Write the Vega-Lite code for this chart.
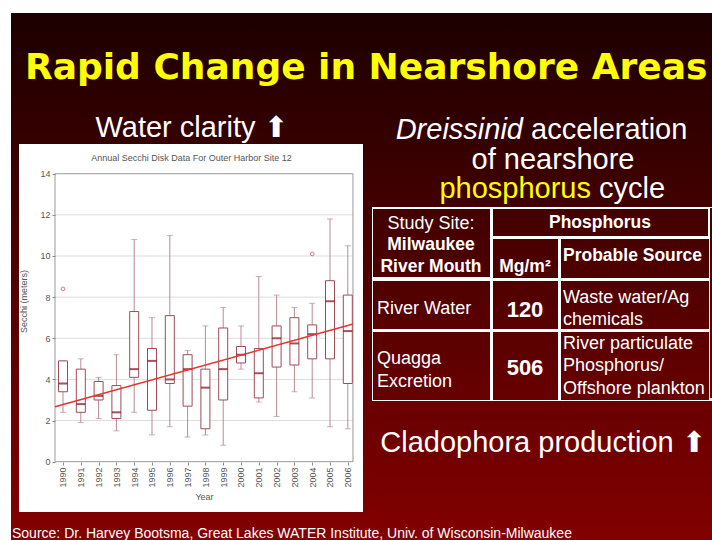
{
  "$schema": "https://vega.github.io/schema/vega-lite/v6.json",
  "background": "white",
  "padding": {"left": 11, "top": 13, "right": 0, "bottom": 0},
  "spacing": 0,
  "config": {
    "view": {"stroke": null},
    "text": {"font": "Liberation Sans", "color": "white", "baseline": "alphabetic", "fontSize": 18},
    "axis": {"labelFont": "Liberation Sans", "titleFont": "Liberation Sans"}
  },
  "vconcat": [
    {
      "width": 701,
      "height": 101,
      "view": {"fill": {"gradient": "linear", "x1": 0, "y1": 0, "x2": 0, "y2": 1, "stops": [{"offset": 0, "color": "#1c0000"}, {"offset": 1, "color": "#300000"}]}},
      "data": {"values": [{"text": "Rapid Change in Nearshore Areas"}]},
      "mark": {"type": "text", "font": "DejaVu Sans", "fontWeight": "bold", "fontSize": 36, "color": "#ffff00", "align": "left", "baseline": "middle", "dx": -336.5, "dy": 4},
      "encoding": {"text": {"field": "text"}}
    },
    {
      "spacing": 0,
      "bounds": "flush",
      "hconcat": [
        {
          "width": 361,
          "height": 426,
          "view": {"fill": {"gradient": "linear", "x1": 0, "y1": 0, "x2": 0, "y2": 1, "stops": [{"offset": 0, "color": "#300000"}, {"offset": 1, "color": "#840000"}]}},
          "title": {"text": "Water clarity ⬆", "subtitle": "Annual Secchi Disk Data For Outer Harbor Site 12", "color": "white", "font": "Liberation Sans", "fontSize": 29, "fontWeight": "normal", "subtitleColor": "#555555", "subtitleFont": "Liberation Sans", "subtitleFontSize": 9, "subtitlePadding": 11, "offset": -49, "anchor": "middle"},
          "data": {"values": [
            {"year": 1990, "lower": 2.4, "q1": 3.4, "median": 3.8, "q3": 4.9, "upper": 4.9},
            {"year": 1991, "lower": 1.9, "q1": 2.4, "median": 2.8, "q3": 4.5, "upper": 5.0},
            {"year": 1992, "lower": 2.1, "q1": 3.0, "median": 3.2, "q3": 3.9, "upper": 4.1},
            {"year": 1993, "lower": 1.5, "q1": 2.1, "median": 2.4, "q3": 3.7, "upper": 5.2},
            {"year": 1994, "lower": 2.4, "q1": 4.1, "median": 4.5, "q3": 7.3, "upper": 10.8},
            {"year": 1995, "lower": 1.3, "q1": 2.5, "median": 4.9, "q3": 5.5, "upper": 7.0},
            {"year": 1996, "lower": 1.7, "q1": 3.8, "median": 4.0, "q3": 7.1, "upper": 11.0},
            {"year": 1997, "lower": 1.2, "q1": 2.7, "median": 4.5, "q3": 5.2, "upper": 5.4},
            {"year": 1998, "lower": 1.3, "q1": 1.6, "median": 3.6, "q3": 4.5, "upper": 6.6},
            {"year": 1999, "lower": 0.8, "q1": 3.0, "median": 4.5, "q3": 6.5, "upper": 7.5},
            {"year": 2000, "lower": 4.5, "q1": 4.8, "median": 5.2, "q3": 5.6, "upper": 6.6},
            {"year": 2001, "lower": 2.9, "q1": 3.1, "median": 4.3, "q3": 5.5, "upper": 9.0},
            {"year": 2002, "lower": 2.2, "q1": 4.6, "median": 6.0, "q3": 6.6, "upper": 8.1},
            {"year": 2003, "lower": 3.4, "q1": 4.7, "median": 5.75, "q3": 7.0, "upper": 7.5},
            {"year": 2004, "lower": 3.1, "q1": 5.0, "median": 6.2, "q3": 6.65, "upper": 7.7},
            {"year": 2005, "lower": 1.7, "q1": 5.0, "median": 7.8, "q3": 8.8, "upper": 11.8},
            {"year": 2006, "lower": 1.6, "q1": 3.8, "median": 6.35, "q3": 8.1, "upper": 10.5}
          ]},
          "layer": [
            {
              "data": {"values": [{}]},
              "mark": {"type": "rect", "color": "white"},
              "encoding": {
                "x": {"datum": 1987.528, "type": "quantitative", "scale": {"domain": [1987.0787, 2007.3596], "nice": false, "zero": false, "padding": 0},
                  "axis": {"zindex": 1, "values": [1990, 1991, 1992, 1993, 1994, 1995, 1996, 1997, 1998, 1999, 2000, 2001, 2002, 2003, 2004, 2005, 2006], "tickCount": 17, "format": "d", "labelAngle": 270, "offset": -78, "domain": false, "grid": false, "tickSize": 3, "tickColor": "#888888", "labelColor": "#555555", "labelFontSize": 9, "labelPadding": 2, "labelOverlap": false, "labelFlush": false, "labelSeparation": 0, "title": "Year", "titleColor": "#555555", "titleFontSize": 9, "titleFontWeight": "normal", "titlePadding": 5, "titleX": 193}},
                "x2": {"datum": 2006.854},
                "y": {"datum": -2.445, "type": "quantitative", "scale": {"domain": [-3.807, 16.903], "nice": false, "zero": false, "padding": 0},
                  "axis": {"zindex": 1, "values": [0, 2, 4, 6, 8, 10, 12, 14], "offset": -44, "domain": false, "grid": false, "tickSize": 3, "tickColor": "#888888", "labelColor": "#555555", "labelFontSize": 9, "labelPadding": 2, "labelOverlap": false, "labelFlush": false, "title": "Secchi (meters)", "titleColor": "#555555", "titleFontSize": 9, "titleFontWeight": "normal", "titleX": -27, "titleY": 187}},
                "y2": {"datum": 15.445}
              }
            },
            {
              "data": {"values": [{"meters": 2}, {"meters": 4}, {"meters": 6}, {"meters": 8}, {"meters": 10}, {"meters": 12}]},
              "mark": {"type": "rule", "color": "#dddddd", "strokeWidth": 1},
              "encoding": {
                "x": {"datum": 1989.55, "type": "quantitative", "scale": {"domain": [1987.0787, 2007.3596], "nice": false, "zero": false, "padding": 0}},
                "x2": {"datum": 2006.29},
                "y": {"field": "meters", "type": "quantitative", "scale": {"domain": [-3.807, 16.903], "nice": false, "zero": false, "padding": 0}}
              }
            },
            {
              "data": {"values": [{}]},
              "mark": {"type": "rect", "fillOpacity": 0, "stroke": "#999999", "strokeWidth": 1},
              "encoding": {
                "x": {"datum": 1989.55, "type": "quantitative", "scale": {"domain": [1987.0787, 2007.3596], "nice": false, "zero": false, "padding": 0}},
                "x2": {"datum": 2006.29},
                "y": {"datum": 0, "type": "quantitative", "scale": {"domain": [-3.807, 16.903], "nice": false, "zero": false, "padding": 0}},
                "y2": {"datum": 14}
              }
            },
            {
              "mark": {"type": "rule", "color": "#b98a93", "strokeWidth": 1},
              "encoding": {
                "x": {"field": "year", "type": "quantitative", "scale": {"domain": [1987.0787, 2007.3596], "nice": false, "zero": false, "padding": 0},
                  "axis": {"zindex": 1, "values": [1990, 1991, 1992, 1993, 1994, 1995, 1996, 1997, 1998, 1999, 2000, 2001, 2002, 2003, 2004, 2005, 2006], "tickCount": 17, "format": "d", "labelAngle": 270, "offset": -78, "domain": false, "grid": false, "tickSize": 3, "tickColor": "#888888", "labelColor": "#555555", "labelFontSize": 9, "labelPadding": 2, "labelOverlap": false, "labelFlush": false, "labelSeparation": 0, "title": "Year", "titleColor": "#555555", "titleFontSize": 9, "titleFontWeight": "normal", "titlePadding": 5, "titleX": 193}},
                "y": {"field": "lower", "type": "quantitative", "scale": {"domain": [-3.807, 16.903], "nice": false, "zero": false, "padding": 0},
                  "axis": {"zindex": 1, "values": [0, 2, 4, 6, 8, 10, 12, 14], "offset": -44, "domain": false, "grid": false, "tickSize": 3, "tickColor": "#888888", "labelColor": "#555555", "labelFontSize": 9, "labelPadding": 2, "labelOverlap": false, "labelFlush": false, "title": "Secchi (meters)", "titleColor": "#555555", "titleFontSize": 9, "titleFontWeight": "normal", "titleX": -27, "titleY": 187}},
                "y2": {"field": "q1"}
              }
            },
            {
              "mark": {"type": "rule", "color": "#b98a93", "strokeWidth": 1},
              "encoding": {
                "x": {"field": "year", "type": "quantitative", "scale": {"domain": [1987.0787, 2007.3596], "nice": false, "zero": false, "padding": 0}},
                "y": {"field": "q3", "type": "quantitative", "scale": {"domain": [-3.807, 16.903], "nice": false, "zero": false, "padding": 0}},
                "y2": {"field": "upper"}
              }
            },
            {
              "mark": {"type": "tick", "orient": "horizontal", "size": 6, "thickness": 1, "color": "#b98a93"},
              "encoding": {
                "x": {"field": "year", "type": "quantitative", "scale": {"domain": [1987.0787, 2007.3596], "nice": false, "zero": false, "padding": 0}},
                "y": {"field": "lower", "type": "quantitative", "scale": {"domain": [-3.807, 16.903], "nice": false, "zero": false, "padding": 0}}
              }
            },
            {
              "mark": {"type": "tick", "orient": "horizontal", "size": 6, "thickness": 1, "color": "#b98a93"},
              "encoding": {
                "x": {"field": "year", "type": "quantitative", "scale": {"domain": [1987.0787, 2007.3596], "nice": false, "zero": false, "padding": 0}},
                "y": {"field": "upper", "type": "quantitative", "scale": {"domain": [-3.807, 16.903], "nice": false, "zero": false, "padding": 0}}
              }
            },
            {
              "mark": {"type": "bar", "size": 9, "fill": "white", "stroke": "#a04a58", "strokeWidth": 1},
              "encoding": {
                "x": {"field": "year", "type": "quantitative", "scale": {"domain": [1987.0787, 2007.3596], "nice": false, "zero": false, "padding": 0}},
                "y": {"field": "q1", "type": "quantitative", "scale": {"domain": [-3.807, 16.903], "nice": false, "zero": false, "padding": 0}},
                "y2": {"field": "q3"}
              }
            },
            {
              "mark": {"type": "tick", "orient": "horizontal", "size": 9, "thickness": 2, "color": "#7d0a1a"},
              "encoding": {
                "x": {"field": "year", "type": "quantitative", "scale": {"domain": [1987.0787, 2007.3596], "nice": false, "zero": false, "padding": 0}},
                "y": {"field": "median", "type": "quantitative", "scale": {"domain": [-3.807, 16.903], "nice": false, "zero": false, "padding": 0}}
              }
            },
            {
              "data": {"values": [{"year": 1990, "secchi": 8.4}, {"year": 2004, "secchi": 10.1}]},
              "mark": {"type": "point", "shape": "circle", "size": 14, "filled": false, "color": "#c0404f", "strokeWidth": 1},
              "encoding": {
                "x": {"field": "year", "type": "quantitative", "scale": {"domain": [1987.0787, 2007.3596], "nice": false, "zero": false, "padding": 0}},
                "y": {"field": "secchi", "type": "quantitative", "scale": {"domain": [-3.807, 16.903], "nice": false, "zero": false, "padding": 0}}
              }
            },
            {
              "data": {"values": [{"year": 1989.55, "secchi": 2.67}, {"year": 2006.29, "secchi": 6.69}]},
              "mark": {"type": "line", "color": "#e8322e", "strokeWidth": 1.5},
              "encoding": {
                "x": {"field": "year", "type": "quantitative", "scale": {"domain": [1987.0787, 2007.3596], "nice": false, "zero": false, "padding": 0}},
                "y": {"field": "secchi", "type": "quantitative", "scale": {"domain": [-3.807, 16.903], "nice": false, "zero": false, "padding": 0}}
              }
            }
          ]
        },
        {
          "spacing": 0,
          "vconcat": [
            {
              "width": 340,
              "height": 93,
              "view": {"fill": {"gradient": "linear", "x1": 0, "y1": 0, "x2": 0, "y2": 1, "stops": [{"offset": 0, "color": "#300000"}, {"offset": 1, "color": "#420000"}]}},
              "data": {"values": [
                {"line": 1, "run": 1, "text": "Dreissinid"},
                {"line": 1, "run": 2, "text": "acceleration"},
                {"line": 2, "run": 1, "text": "of nearshore"},
                {"line": 3, "run": 1, "text": "phosphorus"},
                {"line": 3, "run": 2, "text": "cycle"}
              ]},
              "encoding": {
                "y": {"field": "line", "type": "quantitative", "axis": null, "scale": {"domain": [0.1525, 3.305], "reverse": true, "nice": false, "zero": false}},
                "text": {"field": "text"}
              },
              "layer": [
                {"transform": [{"filter": "datum.line == 1 && datum.run == 1"}], "mark": {"type": "text", "fontSize": 29, "fontStyle": "italic", "align": "right", "dx": -19}},
                {"transform": [{"filter": "datum.line == 1 && datum.run == 2"}], "mark": {"type": "text", "fontSize": 29, "align": "left", "dx": -11}},
                {"transform": [{"filter": "datum.line == 2"}], "mark": {"type": "text", "fontSize": 29, "align": "center", "dx": 11}},
                {"transform": [{"filter": "datum.line == 3 && datum.run == 1"}], "mark": {"type": "text", "fontSize": 29, "align": "right", "dx": 49, "color": "#ffff00"}},
                {"transform": [{"filter": "datum.line == 3 && datum.run == 2"}], "mark": {"type": "text", "fontSize": 29, "align": "left", "dx": 57}}
              ]
            },
            {
              "spacing": 0,
              "hconcat": [
                {
                  "spacing": 0,
                  "vconcat": [
                    {
                      "spacing": 0,
                      "hconcat": [
                        {
                          "width": 118, "height": 69,
                          "view": {"stroke": "white", "strokeWidth": 1, "fill": {"gradient": "linear", "x1": 0, "y1": 0, "x2": 0, "y2": 1, "stops": [{"offset": 0, "color": "#420000"}, {"offset": 1, "color": "#500000"}]}},
                          "data": {"values": [{"line": 1, "text": "Study Site:"}, {"line": 2, "text": "Milwaukee"}, {"line": 3, "text": "River Mouth"}]},
                          "encoding": {
                            "y": {"field": "line", "type": "quantitative", "axis": null, "scale": {"domain": [0.0233, 3.233], "reverse": true, "nice": false, "zero": false}},
                            "text": {"field": "text"}
                          },
                          "layer": [
                            {"transform": [{"filter": "datum.line == 1"}], "mark": {"type": "text", "align": "center", "fontSize": 18}},
                            {"transform": [{"filter": "datum.line > 1"}], "mark": {"type": "text", "align": "center", "fontSize": 17.5, "fontWeight": "bold"}}
                          ]
                        },
                        {
                          "spacing": 0,
                          "vconcat": [
                            {
                              "width": 216, "height": 28,
                              "view": {"stroke": "white", "strokeWidth": 1, "fill": {"gradient": "linear", "x1": 0, "y1": 0, "x2": 0, "y2": 1, "stops": [{"offset": 0, "color": "#420000"}, {"offset": 1, "color": "#480000"}]}},
                              "data": {"values": [{"line": 1, "text": "Phosphorus"}]},
                              "mark": {"type": "text", "align": "center", "fontSize": 17.5, "fontWeight": "bold"},
                              "encoding": {
                                "y": {"field": "line", "type": "quantitative", "axis": null, "scale": {"domain": [0.0476, 1.381], "reverse": true, "nice": false, "zero": false}},
                                "text": {"field": "text"}
                              }
                            },
                            {
                              "spacing": 0,
                              "hconcat": [
                                {
                                  "width": 66, "height": 40,
                                  "view": {"stroke": "white", "strokeWidth": 1, "fill": {"gradient": "linear", "x1": 0, "y1": 0, "x2": 0, "y2": 1, "stops": [{"offset": 0, "color": "#480000"}, {"offset": 1, "color": "#500000"}]}},
                                  "data": {"values": [{"line": 1, "text": "Mg/m²"}]},
                                  "mark": {"type": "text", "align": "center", "fontSize": 17.5, "fontWeight": "bold"},
                                  "encoding": {
                                    "y": {"field": "line", "type": "quantitative", "axis": null, "scale": {"domain": [-0.619, 1.286], "reverse": true, "nice": false, "zero": false}},
                                    "text": {"field": "text"}
                                  }
                                },
                                {
                                  "width": 149, "height": 40,
                                  "view": {"stroke": "white", "strokeWidth": 1, "fill": {"gradient": "linear", "x1": 0, "y1": 0, "x2": 0, "y2": 1, "stops": [{"offset": 0, "color": "#480000"}, {"offset": 1, "color": "#500000"}]}},
                                  "data": {"values": [{"line": 1, "text": "Probable Source"}]},
                                  "mark": {"type": "text", "align": "left", "dx": -71.5, "fontSize": 17.5, "fontWeight": "bold"},
                                  "encoding": {
                                    "y": {"field": "line", "type": "quantitative", "axis": null, "scale": {"domain": [-0.0714, 1.833], "reverse": true, "nice": false, "zero": false}},
                                    "text": {"field": "text"}
                                  }
                                }
                              ]
                            }
                          ]
                        }
                      ]
                    },
                    {
                      "spacing": 0,
                      "hconcat": [
                        {
                          "width": 118, "height": 49,
                          "view": {"stroke": "white", "strokeWidth": 1, "fill": {"gradient": "linear", "x1": 0, "y1": 0, "x2": 0, "y2": 1, "stops": [{"offset": 0, "color": "#500000"}, {"offset": 1, "color": "#5a0000"}]}},
                          "data": {"values": [{"line": 1, "text": "River Water"}]},
                          "mark": {"type": "text", "align": "left", "dx": -54, "fontSize": 18},
                          "encoding": {
                            "y": {"field": "line", "type": "quantitative", "axis": null, "scale": {"domain": [-0.619, 1.714], "reverse": true, "nice": false, "zero": false}},
                            "text": {"field": "text"}
                          }
                        },
                        {
                          "width": 66, "height": 49,
                          "view": {"stroke": "white", "strokeWidth": 1, "fill": {"gradient": "linear", "x1": 0, "y1": 0, "x2": 0, "y2": 1, "stops": [{"offset": 0, "color": "#500000"}, {"offset": 1, "color": "#5a0000"}]}},
                          "data": {"values": [{"line": 1, "text": "120"}]},
                          "mark": {"type": "text", "align": "center", "fontSize": 22, "fontWeight": "bold"},
                          "encoding": {
                            "y": {"field": "line", "type": "quantitative", "axis": null, "scale": {"domain": [-0.762, 1.571], "reverse": true, "nice": false, "zero": false}},
                            "text": {"field": "text"}
                          }
                        },
                        {
                          "width": 149, "height": 49,
                          "view": {"stroke": "white", "strokeWidth": 1, "fill": {"gradient": "linear", "x1": 0, "y1": 0, "x2": 0, "y2": 1, "stops": [{"offset": 0, "color": "#500000"}, {"offset": 1, "color": "#5a0000"}]}},
                          "data": {"values": [{"line": 1, "text": "Waste water/Ag"}, {"line": 2, "text": "chemicals"}]},
                          "mark": {"type": "text", "align": "left", "dx": -71.5, "fontSize": 18},
                          "encoding": {
                            "y": {"field": "line", "type": "quantitative", "axis": null, "scale": {"domain": [-0.0455, 2.182], "reverse": true, "nice": false, "zero": false}},
                            "text": {"field": "text"}
                          }
                        }
                      ]
                    },
                    {
                      "spacing": 0,
                      "hconcat": [
                        {
                          "width": 118, "height": 69,
                          "view": {"stroke": "white", "strokeWidth": 1, "fill": {"gradient": "linear", "x1": 0, "y1": 0, "x2": 0, "y2": 1, "stops": [{"offset": 0, "color": "#5a0000"}, {"offset": 1, "color": "#680000"}]}},
                          "data": {"values": [{"line": 1, "text": "Quagga"}, {"line": 2, "text": "Excretion"}]},
                          "mark": {"type": "text", "align": "left", "dx": -54, "fontSize": 18},
                          "encoding": {
                            "y": {"field": "line", "type": "quantitative", "axis": null, "scale": {"domain": [-0.435, 2.565], "reverse": true, "nice": false, "zero": false}},
                            "text": {"field": "text"}
                          }
                        },
                        {
                          "width": 66, "height": 69,
                          "view": {"stroke": "white", "strokeWidth": 1, "fill": {"gradient": "linear", "x1": 0, "y1": 0, "x2": 0, "y2": 1, "stops": [{"offset": 0, "color": "#5a0000"}, {"offset": 1, "color": "#680000"}]}},
                          "data": {"values": [{"line": 1, "text": "506"}]},
                          "mark": {"type": "text", "align": "center", "fontSize": 22, "fontWeight": "bold"},
                          "encoding": {
                            "y": {"field": "line", "type": "quantitative", "axis": null, "scale": {"domain": [-1.095, 2.19], "reverse": true, "nice": false, "zero": false}},
                            "text": {"field": "text"}
                          }
                        },
                        {
                          "width": 149, "height": 69,
                          "view": {"stroke": "white", "strokeWidth": 1, "fill": {"gradient": "linear", "x1": 0, "y1": 0, "x2": 0, "y2": 1, "stops": [{"offset": 0, "color": "#5a0000"}, {"offset": 1, "color": "#680000"}]}},
                          "data": {"values": [{"line": 1, "text": "River particulate"}, {"line": 2, "text": "Phosphorus/"}, {"line": 3, "text": "Offshore plankton"}]},
                          "mark": {"type": "text", "align": "left", "dx": -71.5, "fontSize": 18},
                          "encoding": {
                            "y": {"field": "line", "type": "quantitative", "axis": null, "scale": {"domain": [0.2, 3.267], "reverse": true, "nice": false, "zero": false}},
                            "text": {"field": "text"}
                          }
                        }
                      ]
                    }
                  ]
                },
                {
                  "width": 4,
                  "height": 190,
                  "view": {"fill": {"gradient": "linear", "x1": 0, "y1": 0, "x2": 0, "y2": 1, "stops": [{"offset": 0, "color": "#420000"}, {"offset": 1, "color": "#680000"}]}},
                  "data": {"values": [{}]},
                  "mark": {"type": "text", "text": ""}
                }
              ]
            },
            {
              "width": 340,
              "height": 143,
              "view": {"fill": {"gradient": "linear", "x1": 0, "y1": 0, "x2": 0, "y2": 1, "stops": [{"offset": 0, "color": "#680000"}, {"offset": 1, "color": "#840000"}]}},
              "data": {"values": [
                {"role": "heading", "text": "Cladophora production ⬆"},
                {"role": "source", "text": "Source: Dr. Harvey Bootsma, Great Lakes WATER Institute, Univ. of Wisconsin-Milwaukee"}
              ]},
              "encoding": {"text": {"field": "text"}},
              "layer": [
                {"transform": [{"filter": "datum.role == 'heading'"}], "mark": {"type": "text", "fontSize": 29, "align": "center", "baseline": "middle", "dx": 1, "dy": -29.5}},
                {"transform": [{"filter": "datum.role == 'source'"}], "mark": {"type": "text", "fontSize": 14, "align": "left", "baseline": "middle", "dx": -530, "dy": 61}}
              ]
            }
          ]
        }
      ]
    }
  ]
}
